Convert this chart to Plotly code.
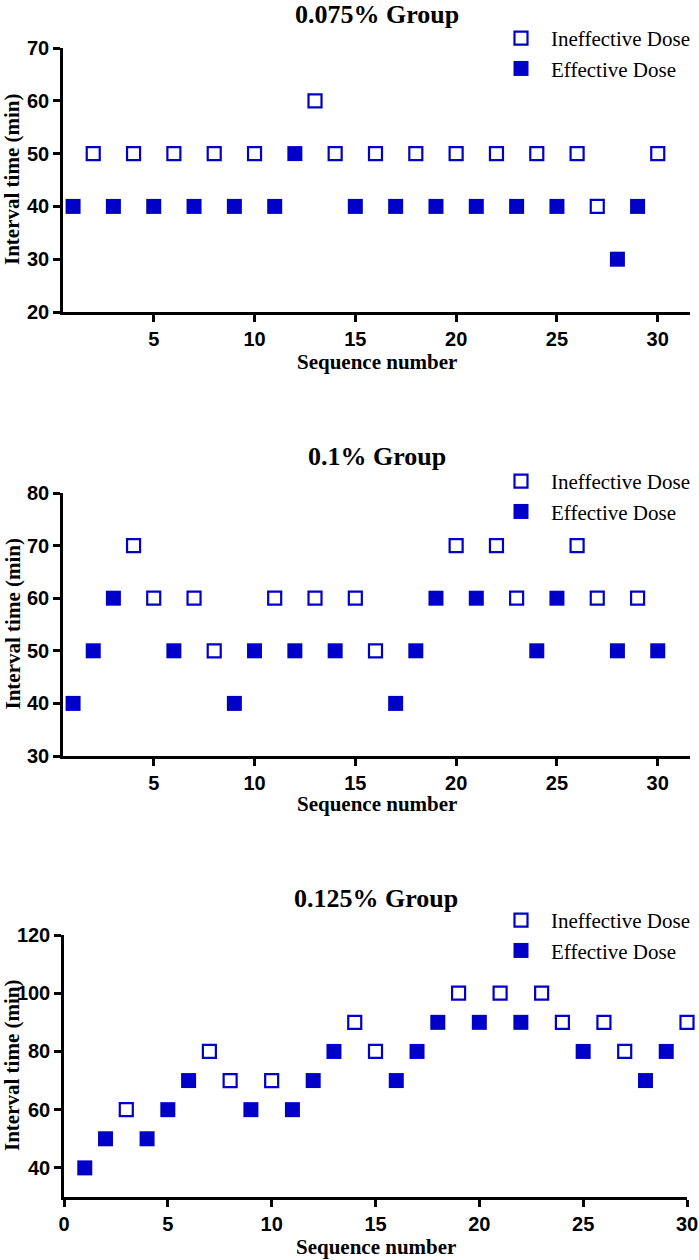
import plotly.graph_objects as go

# sequence numbers shared by the three groups
seq = [1, 2, 3, 4, 5, 6, 7, 8, 9, 10, 11, 12, 13, 14, 15,
       16, 17, 18, 19, 20, 21, 22, 23, 24, 25, 26, 27, 28, 29, 30]

# 0.075% group - interval time (min) and outcome (E = effective, I = ineffective)
time_075 = [40, 50, 40, 50, 40, 50, 40, 50, 40, 50, 40, 50, 60, 50, 40,
            50, 40, 50, 40, 50, 40, 50, 40, 50, 40, 50, 40, 30, 40, 50]
outcome_075 = ['E', 'I', 'E', 'I', 'E', 'I', 'E', 'I', 'E', 'I', 'E', 'E', 'I', 'I', 'E',
               'I', 'E', 'I', 'E', 'I', 'E', 'I', 'E', 'I', 'E', 'I', 'I', 'E', 'E', 'I']

# 0.1% group
time_01 = [40, 50, 60, 70, 60, 50, 60, 50, 40, 50, 60, 50, 60, 50, 60,
           50, 40, 50, 60, 70, 60, 70, 60, 50, 60, 70, 60, 50, 60, 50]
outcome_01 = ['E', 'E', 'E', 'I', 'I', 'E', 'I', 'I', 'E', 'E', 'I', 'E', 'I', 'E', 'I',
              'I', 'E', 'E', 'E', 'I', 'E', 'I', 'I', 'E', 'E', 'I', 'I', 'E', 'I', 'E']

# 0.125% group
time_0125 = [40, 50, 60, 50, 60, 70, 80, 70, 60, 70, 60, 70, 80, 90, 80,
             70, 80, 90, 100, 90, 100, 90, 100, 90, 80, 90, 80, 70, 80, 90]
outcome_0125 = ['E', 'E', 'I', 'E', 'E', 'E', 'I', 'I', 'E', 'I', 'E', 'E', 'E', 'I', 'I',
                'E', 'E', 'E', 'I', 'E', 'I', 'E', 'I', 'I', 'E', 'I', 'I', 'E', 'E', 'I']

titles = ['0.075% Group', '0.1% Group', '0.125% Group']
y_ticks = [[20, 30, 40, 50, 60, 70], [30, 40, 50, 60, 70, 80], [40, 60, 80, 100, 120]]
x_ticks = [[5, 10, 15, 20, 25, 30], [5, 10, 15, 20, 25, 30], [0, 5, 10, 15, 20, 25, 30]]

BLUE = '#0000C8'
W, H = 699, 1260

def px_x(p):
    return p / W

def px_y(p):
    return 1 - p / H

# panel geometry in pixels (left, right, top, bottom) and ranges
panels = [
    dict(data=(time_075, outcome_075), box=(63, 690, 48, 312), xr=[0.5, 31.6], yr=[20, 70],
         title_y=15, xtitle_y=362, leg=40),
    dict(data=(time_01, outcome_01), box=(63, 690, 493, 756), xr=[0.5, 31.6], yr=[30, 80],
         title_y=456, xtitle_y=804, leg=483),
    dict(data=(time_0125, outcome_0125), box=(64, 687, 935, 1197), xr=[0, 30], yr=[30, 120],
         title_y=898, xtitle_y=1247, leg=922),
]

fig = go.Figure()
layout = dict(width=W, height=H, margin=dict(l=0, r=0, t=0, b=0, autoexpand=False),
              plot_bgcolor='white', paper_bgcolor='white', annotations=[])

for i, p in enumerate(panels):
    n = '' if i == 0 else str(i + 1)
    vals, outc = p['data']
    leg = 'legend' + n
    ix = [s for s, o in zip(seq, outc) if o == 'I']
    iy = [v for v, o in zip(vals, outc) if o == 'I']
    ex = [s for s, o in zip(seq, outc) if o == 'E']
    ey = [v for v, o in zip(vals, outc) if o == 'E']
    fig.add_trace(go.Scatter(x=ix, y=iy, mode='markers', name='Ineffective Dose',
                             xaxis='x' + n, yaxis='y' + n, legend=leg, cliponaxis=False,
                             marker=dict(symbol='square-open', size=13, color=BLUE,
                                         line=dict(width=2.2, color=BLUE))))
    fig.add_trace(go.Scatter(x=ex, y=ey, mode='markers', name='Effective Dose',
                             xaxis='x' + n, yaxis='y' + n, legend=leg, cliponaxis=False,
                             marker=dict(symbol='square', size=15, color=BLUE,
                                         line=dict(width=0))))
    l, r, t, b = p['box']
    axis_style = dict(showline=True, linecolor='black', linewidth=2.5,
                      ticks='outside', ticklen=7, tickwidth=2.5, tickcolor='black',
                      showgrid=False, zeroline=False, automargin=False,
                      ticklabeloverflow='allow',
                      tickfont=dict(family='Liberation Sans', size=20,
                                    color='black', weight='bold'))
    layout['xaxis' + n] = dict(domain=[px_x(l), px_x(r)], range=p['xr'], anchor='y' + n,
                               tickvals=x_ticks[i], **axis_style)
    layout['yaxis' + n] = dict(domain=[px_y(b), px_y(t)], range=p['yr'], anchor='x' + n,
                               tickvals=y_ticks[i], **axis_style)
    layout[leg] = dict(x=px_x(491), y=px_y(p['leg'] - 22), xanchor='left', yanchor='top',
                       bgcolor='rgba(0,0,0,0)', itemwidth=50, tracegroupgap=0,
                       font=dict(family='Liberation Serif', size=21, color='black'))
    cx = (l + r) / 2
    layout['annotations'] += [
        dict(text='<b>' + titles[i] + '</b>', x=px_x(cx), y=px_y(p['title_y']),
             xref='paper', yref='paper', showarrow=False, xanchor='center', yanchor='middle',
             font=dict(family='Liberation Serif', size=26, color='black')),
        dict(text='<b>Sequence number</b>', x=px_x(cx), y=px_y(p['xtitle_y']),
             xref='paper', yref='paper', showarrow=False, xanchor='center', yanchor='middle',
             font=dict(family='Liberation Serif', size=21, color='black')),
        dict(text='<b>Interval time (min)</b>', x=px_x(12), y=px_y((t + b) / 2),
             xref='paper', yref='paper', showarrow=False, xanchor='center', yanchor='middle',
             textangle=-90, font=dict(family='Liberation Serif', size=21, color='black')),
    ]

fig.update_layout(**layout)
# drop the page's default body margin so the 699x1260 figure fills the window exactly
fig.write_html("out.html", config={'displayModeBar': False},
               post_script="document.body.style.margin='0';document.body.style.overflow='hidden';")
